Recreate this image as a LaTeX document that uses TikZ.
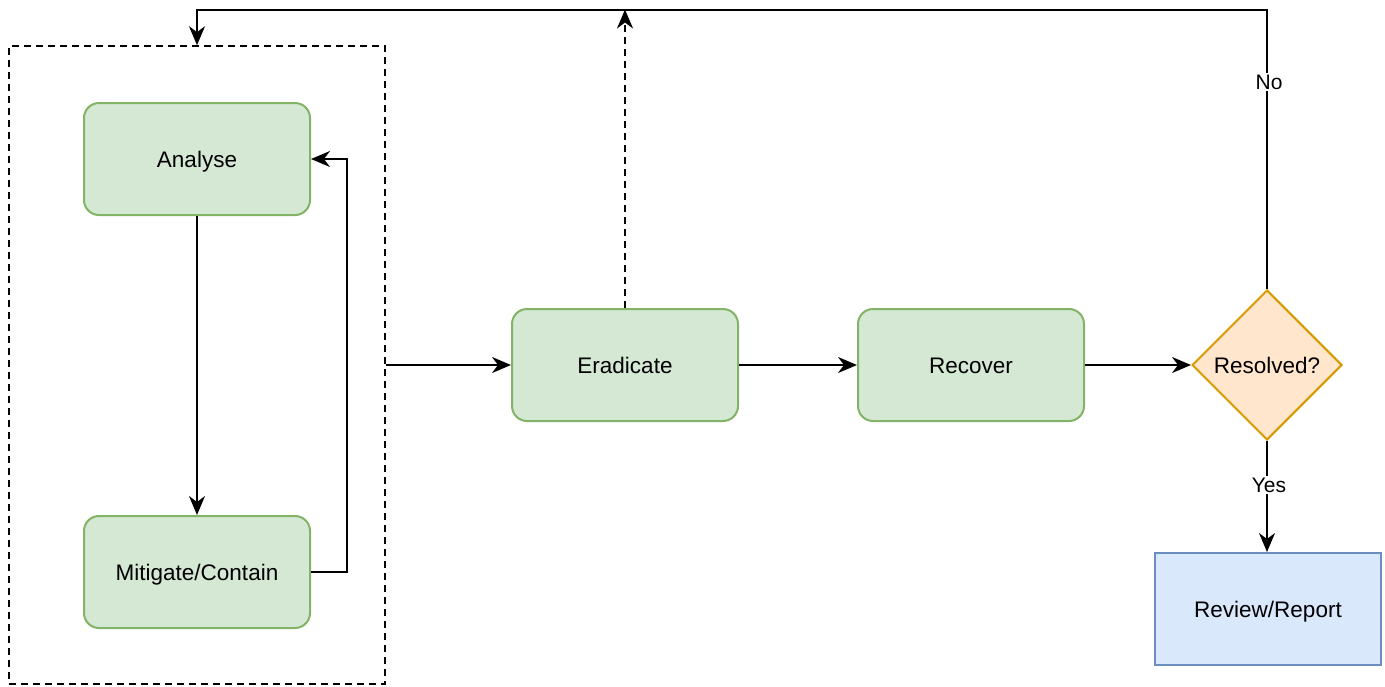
\documentclass[tikz,border=0pt]{standalone}
\usepackage{fontspec}
\setmainfont{Liberation Sans}
\usetikzlibrary{shapes.geometric,arrows.meta}
\definecolor{stepfill}{HTML}{D5E8D4}
\definecolor{stepline}{HTML}{82B366}
\definecolor{askfill}{HTML}{FFE6CC}
\definecolor{askline}{HTML}{D79B00}
\definecolor{endfill}{HTML}{DAE8FC}
\definecolor{endline}{HTML}{6C8EBF}
\tikzset{
  boxtext/.style={font=\fontsize{22.5}{26}\selectfont, text height=21pt, text depth=4pt},
  stepbox/.style={boxtext, draw=stepline, fill=stepfill, line width=2pt, rounded corners=15pt,
    minimum width=226pt, minimum height=112pt, inner sep=0pt},
  askbox/.style={boxtext, draw=askline, fill=askfill, line width=2pt, diamond, aspect=1,
    minimum width=150pt, minimum height=150pt, inner sep=0pt},
  endbox/.style={boxtext, draw=endline, fill=endfill, line width=2pt,
    minimum width=226pt, minimum height=112pt, inner sep=0pt},
  groupbox/.style={draw, dash pattern=on 7pt off 5pt, line width=1.6pt,
    minimum width=376pt, minimum height=638pt, inner sep=0pt},
  link/.style={line width=2pt, -{Stealth[length=19pt,width=16pt,inset=6pt]}},
  tag/.style={fill=white, inner sep=2pt, font=\fontsize{21}{24}\selectfont},
}
\begin{document}
\begin{tikzpicture}[x=1pt,y=-1pt]
\useasboundingbox (0,0) rectangle (1385,686);
\node[groupbox] (grp) at (197,365) {};
\node[stepbox] (ana) at (197,159) {Analyse};
\node[stepbox] (mit) at (197,572) {Mitigate/Contain};
\node[stepbox] (era) at (625,365) {Eradicate};
\node[stepbox] (rec) at (971,365) {Recover};
\node[askbox] (res) at (1267,365) {Resolved?};
\node[endbox] (rep) at (1268,609) {Review/Report};
\coordinate (topE) at (625,9.5);

\draw[link] (ana) -- (mit);
\draw[link] (mit.east) -- (347,572) -- (347,159) -- (ana.east);
\draw[link] (grp.east) -- (era.west);
\draw[link, dash pattern=on 7pt off 5pt] (era.north) -- (topE);
\draw[link] (era) -- (rec);
\draw[link] (rec) -- (res.west);
\draw[link] (res.north) -- (1267,9.5) -- (197,9.5) -- (grp.north);
\node[tag] (no) at (1269,82) {No};
\draw[link] (res.south) -- (rep.north -| res.south);
\node[tag] (yes) at (1269,485) {Yes};
\end{tikzpicture}
\end{document}
